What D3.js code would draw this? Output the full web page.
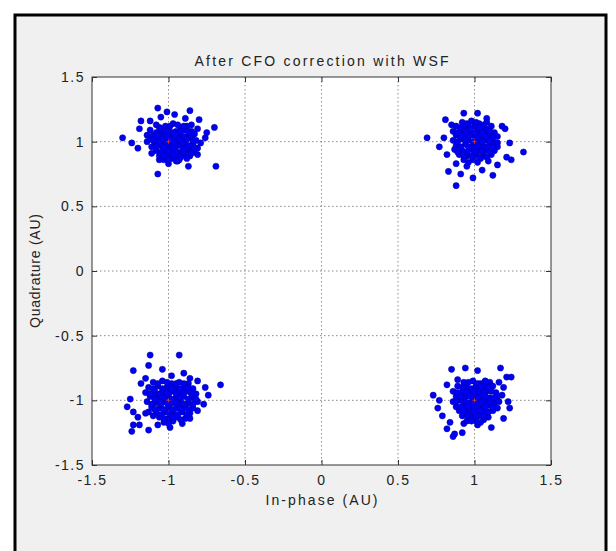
<!DOCTYPE html>
<html>
<head>
<meta charset="utf-8">
<script src="https://cdn.jsdelivr.net/npm/d3@7"></script>
<style>
body { margin: 0; background: #fff; }
text { font-family: "Liberation Sans", Arial, sans-serif; fill: #222; }
</style>
</head>
<body>
<svg id="chart" width="616" height="551"></svg>
<script>
var xTicks = [-1.5, -1, -0.5, 0, 0.5, 1, 1.5];
var xTickLabels = ["-1.5", "-1", "-0.5", "0", "0.5", "1", "1.5"];
var yTicks = [-1.5, -1, -0.5, 0, 0.5, 1, 1.5];
var yTickLabels = ["-1.5", "-1", "-0.5", "0", "0.5", "1", "1.5"];

// ideal QPSK points (red markers)
var idealPoints = [[-1, 1], [1, 1], [-1, -1], [1, -1]];

// received symbols, one array per quadrant
var clusterTL = [
    [-1.30,1.03],[-1.24,0.99],[-1.20,0.95],[-1.07,0.75],[-0.69,0.81],[-0.70,1.11],[-0.86,1.24],[-1.07,1.26],
    [-1.01,1.23],[-0.80,1.17],[-0.75,1.07],[-0.81,1.10],[-0.87,0.81],[-1.18,1.16],[-1.12,1.16],[-1.19,1.10],
    [-1.05,1.19],[-0.96,1.21],[-0.89,1.18],[-0.85,1.13],[-0.79,0.99],[-0.76,1.03],[-0.81,0.90],[-0.94,0.85],
    [-1.00,0.83],[-1.06,0.86],[-1.11,0.91],[-1.14,1.00],[-1.14,1.05],
    [-1.08,1.13],[-1.02,1.12],[-0.97,1.14],[-0.92,1.11],[-0.88,1.12],
    [-1.12,1.09],[-1.05,1.08],[-1.00,1.10],[-0.95,1.08],[-0.90,1.09],[-0.85,1.08],
    [-1.10,1.05],[-1.04,1.06],[-0.98,1.05],[-0.93,1.06],[-0.87,1.05],[-0.83,1.06],
    [-1.12,1.02],[-1.07,1.03],[-1.01,1.02],[-0.96,1.03],[-0.91,1.02],[-0.86,1.03],[-0.82,1.01],
    [-1.09,0.99],[-1.03,1.00],[-0.98,0.98],[-0.94,1.00],[-0.89,0.99],[-0.84,0.98],
    [-1.11,0.96],[-1.05,0.97],[-1.00,0.95],[-0.95,0.96],[-0.90,0.95],[-0.85,0.96],[-0.81,0.95],
    [-1.08,0.93],[-1.02,0.92],[-0.97,0.93],[-0.92,0.92],[-0.87,0.93],[-0.83,0.92],
    [-1.06,0.89],[-1.00,0.90],[-0.95,0.89],[-0.90,0.90],[-0.86,0.89],
    [-1.03,0.86],[-0.98,0.87],[-0.93,0.86],[-0.88,0.87],
    [-1.06,1.11],[-0.94,1.13],[-1.08,1.00],[-0.92,0.97],[-0.97,1.01],[-1.03,0.94],[-0.88,1.02],[-0.99,1.07],
    [-1.05,1.10],[-0.99,1.12],[-0.90,1.12],
    [-1.08,1.07],[-1.02,1.08],[-0.97,1.07],[-0.92,1.08],[-0.87,1.08],
    [-1.07,1.05],[-1.01,1.04],[-0.95,1.05],[-0.90,1.04],[-0.85,1.04],
    [-1.10,1.01],[-1.04,1.02],[-0.99,1.01],[-0.93,1.02],[-0.84,1.01],
    [-1.06,0.98],[-1.01,0.98],[-0.96,0.98],[-0.91,0.99],[-0.86,0.97],
    [-1.08,0.96],[-1.03,0.96],[-0.97,0.95],[-0.88,0.95],[-0.83,0.95],
    [-1.05,0.92],[-1.00,0.93],[-0.95,0.92],[-0.90,0.92],[-0.85,0.91],
    [-1.03,0.89],[-0.97,0.90],[-0.92,0.88],[-1.00,0.86],[-0.95,0.85]
];
var clusterTR = [
    [0.69,1.03],[0.81,1.17],[0.77,0.96],[0.83,0.77],[0.91,0.75],[0.88,0.66],[0.99,0.72],[1.12,0.74],
    [1.05,0.78],[1.32,0.92],[1.23,0.99],[1.24,0.86],[1.20,1.10],[1.18,1.12],[1.21,0.88],[1.15,0.82],
    [0.93,1.22],[1.02,1.22],[1.08,1.18],[0.85,1.13],[0.80,1.03],[0.82,0.90],[0.88,0.83],[0.95,0.81],
    [0.92,1.15],[0.98,1.16],[1.03,1.14],[1.08,1.15],
    [0.88,1.12],[0.94,1.11],[1.00,1.12],[1.05,1.11],[1.11,1.12],
    [0.86,1.08],[0.91,1.09],[0.97,1.08],[1.02,1.09],[1.07,1.08],[1.13,1.07],
    [0.88,1.05],[0.93,1.04],[0.99,1.05],[1.04,1.04],[1.10,1.05],[1.15,1.04],
    [0.86,1.01],[0.91,1.02],[0.96,1.01],[1.02,1.00],[1.07,1.01],[1.12,1.00],
    [0.88,0.97],[0.94,0.98],[0.99,0.97],[1.05,0.97],[1.10,0.98],[1.15,0.96],
    [0.87,0.94],[0.92,0.93],[0.97,0.94],[1.03,0.93],[1.08,0.94],[1.13,0.93],
    [0.90,0.90],[0.95,0.89],[1.01,0.90],[1.06,0.89],[1.11,0.90],
    [0.93,0.86],[0.99,0.86],[1.04,0.87],[1.09,0.85],
    [0.96,1.13],[1.00,0.95],[0.94,1.06],[1.06,0.92],[1.02,1.06],
    [0.95,1.14],[1.01,1.15],[1.06,1.13],
    [0.91,1.11],[0.97,1.10],[1.03,1.11],[1.08,1.10],[0.89,1.07],[0.94,1.08],[1.00,1.07],[1.05,1.07],[1.10,1.08],
    [0.91,1.05],[0.96,1.04],[1.02,1.03],[1.07,1.04],[1.12,1.03],
    [0.89,1.00],[0.94,1.01],[0.99,1.00],[1.05,1.00],[1.10,1.01],[1.15,0.99],
    [0.91,0.96],[0.96,0.96],[1.02,0.97],[1.08,0.96],[1.12,0.96],
    [0.89,0.92],[0.95,0.92],[1.00,0.92],[1.05,0.93],[1.10,0.92],
    [0.93,0.89],[0.98,0.89],[1.03,0.88],[1.08,0.88],[0.96,0.84],[1.02,0.84]
];
var clusterBL = [
    [-1.12,-0.65],[-0.93,-0.65],[-1.23,-0.77],[-1.13,-0.73],[-1.04,-0.76],[-0.90,-0.79],[-0.66,-0.88],[-0.76,-0.90],
    [-0.81,-0.85],[-0.86,-0.83],[-0.74,-0.96],[-0.77,-1.03],[-0.81,-1.08],[-1.27,-1.05],[-1.25,-0.99],[-1.23,-1.09],
    [-1.23,-1.19],[-1.24,-1.24],[-1.19,-1.19],[-1.13,-1.23],[-1.20,-1.13],[-1.15,-1.10],[-1.07,-1.19],[-0.99,-1.21],
    [-0.91,-1.18],[-0.86,-1.14],[-1.18,-0.87],[-1.15,-0.83],[-0.98,-0.81],
    [-1.10,-0.86],[-1.04,-0.85],[-0.98,-0.87],[-0.93,-0.86],[-0.87,-0.87],
    [-1.13,-0.90],[-1.07,-0.89],[-1.01,-0.90],[-0.96,-0.89],[-0.90,-0.90],[-0.84,-0.91],
    [-1.15,-0.94],[-1.09,-0.93],[-1.04,-0.94],[-0.98,-0.93],[-0.93,-0.94],[-0.87,-0.93],[-0.82,-0.95],
    [-1.12,-0.97],[-1.06,-0.98],[-1.01,-0.97],[-0.95,-0.98],[-0.90,-0.97],[-0.84,-0.98],
    [-1.14,-1.01],[-1.09,-1.02],[-1.03,-1.01],[-0.98,-1.02],[-0.92,-1.01],[-0.87,-1.02],[-0.81,-1.01],
    [-1.11,-1.05],[-1.06,-1.06],[-1.00,-1.05],[-0.95,-1.06],[-0.89,-1.05],[-0.84,-1.06],
    [-1.13,-1.09],[-1.08,-1.10],[-1.02,-1.09],[-0.97,-1.10],[-0.91,-1.09],[-0.86,-1.10],
    [-1.06,-1.13],[-1.00,-1.14],[-0.94,-1.13],[-0.89,-1.14],
    [-1.03,-1.17],[-0.97,-1.16],
    [-1.00,-0.96],[-1.05,-1.03],[-0.93,-1.04],[-0.96,-0.92],[-1.09,-0.96],
    [-1.07,-0.87],[-1.01,-0.86],[-0.95,-0.87],[-0.90,-0.87],
    [-1.10,-0.91],[-1.04,-0.91],[-0.98,-0.91],[-0.93,-0.91],[-0.87,-0.90],
    [-1.12,-0.95],[-1.06,-0.95],[-1.01,-0.94],[-0.95,-0.95],[-0.90,-0.94],[-0.85,-0.95],
    [-1.09,-0.99],[-1.04,-0.98],[-0.98,-0.99],[-0.93,-0.98],[-0.87,-0.99],[-0.82,-0.99],
    [-1.11,-1.03],[-1.06,-1.01],[-1.01,-1.02],[-0.95,-1.02],[-0.90,-1.03],[-0.84,-1.03],
    [-1.09,-1.07],[-1.03,-1.07],[-0.98,-1.07],[-0.92,-1.07],[-0.87,-1.07],
    [-1.10,-1.12],[-1.05,-1.11],[-0.99,-1.11],[-0.94,-1.11],[-0.88,-1.11],
    [-1.03,-1.14],[-0.97,-1.13],[-0.92,-1.15],[-1.00,-1.18]
];
var clusterBR = [
    [0.85,-0.76],[0.94,-0.75],[1.02,-0.77],[1.17,-0.75],[1.21,-0.82],[0.89,-0.84],[0.82,-0.88],[0.73,-0.96],
    [0.77,-1.00],[0.76,-1.06],[0.79,-1.12],[1.19,-0.90],[1.18,-0.96],[1.22,-1.01],[1.23,-1.06],[1.19,-1.14],
    [1.11,-1.21],[1.02,-1.19],[0.93,-1.18],[0.82,-1.22],[0.87,-1.26],[0.86,-1.28],[0.92,-1.25],[0.84,-1.17],
    [1.16,-0.86],[1.07,-0.85],[1.24,-0.82],
    [0.93,-0.86],[0.99,-0.85],[1.04,-0.87],[1.10,-0.86],
    [0.89,-0.89],[0.95,-0.90],[1.01,-0.89],[1.06,-0.90],[1.12,-0.89],
    [0.86,-0.93],[0.92,-0.94],[0.97,-0.93],[1.03,-0.94],[1.08,-0.93],[1.14,-0.94],
    [0.88,-0.97],[0.94,-0.97],[0.99,-0.98],[1.05,-0.97],[1.10,-0.98],[1.15,-0.97],
    [0.86,-1.01],[0.91,-1.00],[0.97,-1.02],[1.02,-1.01],[1.08,-1.00],[1.13,-1.02],
    [0.88,-1.05],[0.93,-1.04],[0.99,-1.05],[1.04,-1.06],[1.10,-1.04],[1.15,-1.06],
    [0.90,-1.08],[0.96,-1.09],[1.01,-1.08],[1.07,-1.09],[1.12,-1.08],
    [0.92,-1.12],[0.98,-1.13],[1.03,-1.12],[1.09,-1.13],
    [0.95,-1.16],[1.01,-1.16],[1.06,-1.15],
    [1.00,-0.95],[0.96,-1.06],[1.06,-1.03],[0.94,-0.91],[1.03,-0.91],
    [0.96,-0.86],[1.02,-0.87],[1.07,-0.86],
    [0.92,-0.90],[0.98,-0.91],[1.04,-0.89],[1.09,-0.90],
    [0.89,-0.94],[0.95,-0.94],[1.00,-0.93],[1.06,-0.94],[1.11,-0.93],
    [0.91,-0.97],[0.97,-0.97],[1.02,-0.98],[1.07,-0.97],[1.13,-0.98],
    [0.88,-1.01],[0.94,-1.01],[0.99,-1.02],[1.05,-1.01],[1.10,-1.02],[1.16,-1.01],
    [0.91,-1.05],[0.96,-1.04],[1.02,-1.05],[1.07,-1.05],[1.12,-1.05],
    [0.93,-1.08],[0.99,-1.09],[1.04,-1.08],[1.09,-1.09],
    [0.95,-1.12],[1.01,-1.12],[1.06,-1.12],[0.98,-1.16],[1.04,-1.17]
];

var margin = {left: 92, top: 77, right: 65, bottom: 86},
    width = 616 - margin.left - margin.right,
    height = 551 - margin.top - margin.bottom;

var svg = d3.select("#chart");

// figure frame (bottom edge runs off the picture)
svg.append("rect")
    .attr("x", 15).attr("y", 15)
    .attr("width", 591).attr("height", 560)
    .style("fill", "#f0f0f0")
    .style("stroke", "#000")
    .style("stroke-width", 3);

var g = svg.append("g")
    .attr("transform", "translate(" + margin.left + "," + margin.top + ")");

var x = d3.scaleLinear().domain([-1.5, 1.5]).range([0, width]);
var y = d3.scaleLinear().domain([-1.5, 1.5]).range([height, 0]);

g.append("rect")
    .attr("width", width).attr("height", height)
    .style("fill", "#fff");

// dotted grid
g.selectAll(".vgrid")
    .data(xTicks.slice(1, -1))
    .enter().append("line")
    .attr("class", "vgrid")
    .attr("x1", function(d) { return x(d); }).attr("x2", function(d) { return x(d); })
    .attr("y1", 0).attr("y2", height);
g.selectAll(".hgrid")
    .data(yTicks.slice(1, -1))
    .enter().append("line")
    .attr("class", "hgrid")
    .attr("y1", function(d) { return y(d); }).attr("y2", function(d) { return y(d); })
    .attr("x1", 0).attr("x2", width);
g.selectAll(".vgrid, .hgrid")
    .style("stroke", "#8a8a8a")
    .style("stroke-width", 1)
    .style("stroke-dasharray", "1.5,2.5");

// axes, ticks pointing inward like MATLAB
g.append("g")
    .attr("transform", "translate(0," + height + ")")
    .call(d3.axisBottom(x).tickValues(xTicks).tickSize(-5).tickSizeOuter(0).tickPadding(10)
        .tickFormat(function(d, i) { return xTickLabels[i]; }));
g.append("g")
    .call(d3.axisLeft(y).tickValues(yTicks).tickSize(-5).tickSizeOuter(0).tickPadding(7)
        .tickFormat(function(d, i) { return yTickLabels[i]; }));
g.append("g")
    .call(d3.axisTop(x).tickValues(xTicks).tickSize(-5).tickSizeOuter(0).tickFormat(""));
g.append("g")
    .attr("transform", "translate(" + width + ",0)")
    .call(d3.axisRight(y).tickValues(yTicks).tickSize(-5).tickSizeOuter(0).tickFormat(""));

g.selectAll(".domain").remove();
g.selectAll(".tick line").style("stroke", "#333");
g.selectAll(".tick text")
    .style("font-size", "14px")
    .style("letter-spacing", "1.5px")
    .style("fill", "#222");

// symbols
var allPoints = clusterTL.concat(clusterTR, clusterBL, clusterBR);
g.selectAll(".sym")
    .data(allPoints)
    .enter().append("circle")
    .attr("class", "sym")
    .attr("cx", function(d) { return x(d[0]); })
    .attr("cy", function(d) { return y(d[1]); })
    .attr("r", 3.1)
    .style("fill", "#0000f5")
    .style("stroke", "#00009a")
    .style("stroke-width", 0.5);

// red ideal markers
g.selectAll(".ideal")
    .data(idealPoints)
    .enter().append("path")
    .attr("class", "ideal")
    .attr("d", function(d) {
        var cx = x(d[0]), cy = y(d[1]);
        return "M" + (cx - 2) + "," + cy + "H" + (cx + 2) + "M" + cx + "," + (cy - 2) + "V" + (cy + 2);
    })
    .style("stroke", "#c83040")
    .style("stroke-width", 1);

// axes box
g.append("rect")
    .attr("width", width).attr("height", height)
    .style("fill", "none")
    .style("stroke", "#333")
    .style("stroke-width", 1);

// title and labels
svg.append("text")
    .attr("x", margin.left + width / 2).attr("y", 66)
    .attr("text-anchor", "middle")
    .attr("textLength", 254).attr("lengthAdjust", "spacing")
    .style("font-size", "14px")
    .text("After CFO correction with WSF");

svg.append("text")
    .attr("x", margin.left + width / 2).attr("y", 505)
    .attr("text-anchor", "middle")
    .attr("textLength", 112).attr("lengthAdjust", "spacing")
    .style("font-size", "14px")
    .text("In-phase (AU)");

svg.append("text")
    .attr("transform", "translate(40," + (margin.top + height / 2) + ") rotate(-90)")
    .attr("text-anchor", "middle")
    .attr("textLength", 114).attr("lengthAdjust", "spacing")
    .style("font-size", "14px")
    .text("Quadrature (AU)");
</script>
</body>
</html>
